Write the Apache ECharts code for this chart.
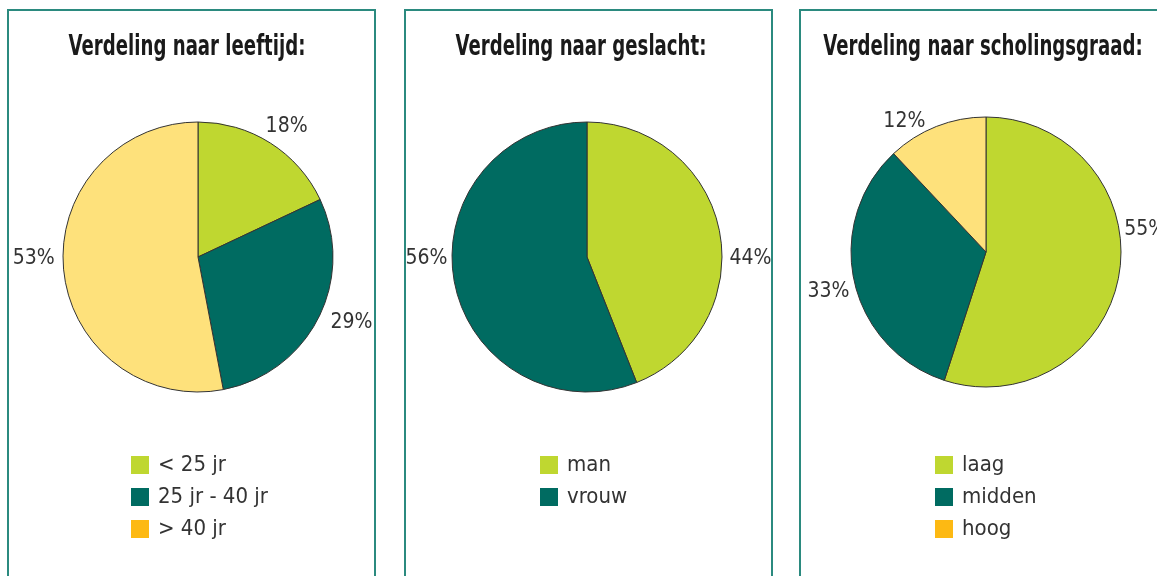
<!DOCTYPE html>
<html>
<head>
<meta charset="utf-8" />
<title>Verdeling</title>
<style>
    html, body { margin: 0; padding: 0; background: #fff; overflow: hidden; }
    body { width: 1157px; height: 576px; position: relative; }
    .panel {
        position: absolute; top: 9px; width: 369px; height: 600px;
        border: 2px solid #2b8a7f; box-sizing: border-box;
    }
    .chart { position: absolute; left: 0; top: 0; width: 365px; height: 596px; }
</style>
</head>
<body>

<div class="panel" style="left: 7px;"><div class="chart" id="c1"></div></div>
<div class="panel" style="left: 404px;"><div class="chart" id="c2"></div></div>
<div class="panel" style="left: 799px;"><div class="chart" id="c3"></div></div>

<script src="https://cdn.jsdelivr.net/npm/echarts@6/dist/echarts.min.js"></script>
<script type="text/javascript">

    // data
    var leeftijdCats = ['< 25 jr', '25 jr - 40 jr', '> 40 jr'];
    var leeftijdVals = [18, 29, 53];

    var geslachtCats = ['man', 'vrouw'];
    var geslachtVals = [44, 56];

    var scholingCats = ['laag', 'midden', 'hoog'];
    var scholingVals = [55, 33, 12];

    var pieColors = ['#bfd730', '#006b61', '#fee17b'];
    var legendColors = ['#bfd730', '#006b61', '#fdb913'];

    var FAMILY = '"DejaVu Sans Condensed", "Liberation Sans Narrow", Roboto, sans-serif';

    // title drawn as graphic text so it can be squeezed like the condensed original
    function makeOption(title, titleX, cats, vals, center, legendLeft, labelShift) {
        return {
            animation: false,
            graphic: [{
                type: 'text',
                x: titleX,
                y: 37,
                scaleX: 0.72,
                style: {
                    text: title,
                    font: 'bold 28px ' + FAMILY,
                    fill: '#1a1a1a',
                    textAlign: 'center',
                    textVerticalAlign: 'middle'
                }
            }],
            legend: {
                orient: 'vertical',
                left: legendLeft,
                top: 438,
                icon: 'rect',
                itemWidth: 18,
                itemHeight: 18,
                itemGap: 10,
                itemStyle: { borderWidth: 0 },
                textStyle: { fontFamily: FAMILY, fontSize: 22, color: '#333', padding: [0, 0, 0, 4] },
                data: cats.map(function (c, i) {
                    return { name: c, itemStyle: { color: legendColors[i], borderWidth: 0 } };
                })
            },
            series: [{
                type: 'pie',
                center: center,
                radius: 135,
                startAngle: 90,
                clockwise: true,
                avoidLabelOverlap: false,
                itemStyle: { borderColor: '#333', borderWidth: 1 },
                label: {
                    show: true,
                    position: 'outside',
                    formatter: '{c}%',
                    fontFamily: FAMILY,
                    fontSize: 21,
                    color: '#333',
                    distanceToLabelLine: 5
                },
                labelLine: { show: false, length: 8, length2: 0 },
                labelLayout: function (p) {
                    var s = labelShift[p.dataIndex] || [0, 0];
                    return { dx: s[0], dy: s[1] };
                },
                emphasis: { disabled: true },
                data: vals.map(function (v, i) {
                    return { name: cats[i], value: v, itemStyle: { color: pieColors[i] } };
                })
            }]
        };
    }

    var c1 = echarts.init(document.getElementById('c1'));
    c1.setOption(makeOption('Verdeling naar leeftijd:', 178, leeftijdCats, leeftijdVals,
        [189, 246], 117, [[-14, -10], [0, 1], [4, -12]]));

    var c2 = echarts.init(document.getElementById('c2'));
    c2.setOption(makeOption('Verdeling naar geslacht:', 175, geslachtCats, geslachtVals,
        [181, 246], 129, [[-3, 28], [6, -25]]));

    var c3 = echarts.init(document.getElementById('c3'));
    c3.setOption(makeOption('Verdeling naar scholingsgraad:', 182, scholingCats, scholingVals,
        [185, 241], 129, [[-8, -45], [8, 8], [-3, 3]]));

</script>
</body>
</html>
